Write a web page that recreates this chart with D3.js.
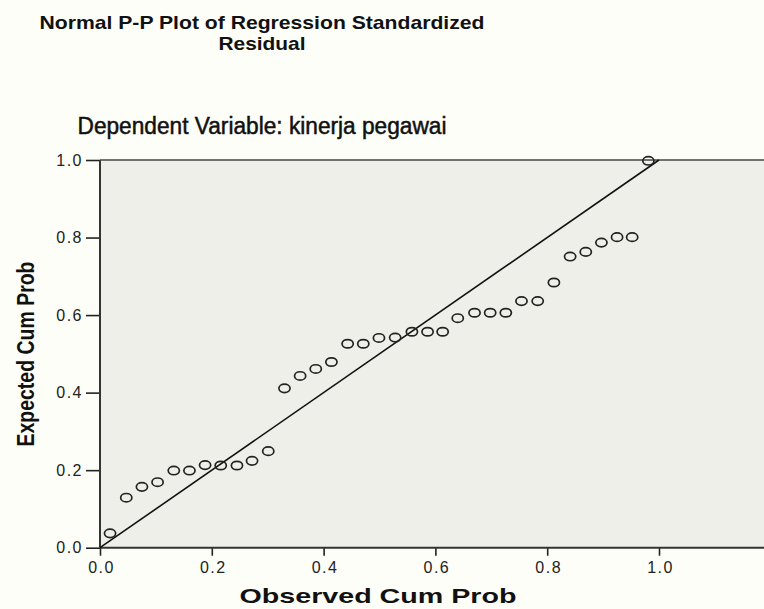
<!DOCTYPE html>
<html>
<head>
<meta charset="utf-8">
<script src="https://cdn.jsdelivr.net/npm/d3@7"></script>
<style>
	html, body { margin: 0; padding: 0; background: #fefef8; }
	svg { display: block; }
</style>
</head>
<body>
<svg id="chart" width="764" height="609"></svg>
<script>
// observed vs expected cumulative probability
var observed = [ 0.018, 0.047, 0.075, 0.103, 0.132, 0.160, 0.188, 0.216, 0.245, 0.272,
	0.301, 0.330, 0.358, 0.386, 0.414, 0.443, 0.471, 0.499, 0.528, 0.558,
	0.586, 0.613, 0.640, 0.670, 0.698, 0.726, 0.754, 0.783, 0.812, 0.841,
	0.869, 0.897, 0.925, 0.952, 0.981 ];
var expected = [ 0.037, 0.129, 0.157, 0.169, 0.199, 0.199, 0.213, 0.212, 0.212, 0.224,
	0.249, 0.411, 0.443, 0.461, 0.479, 0.526, 0.526, 0.541, 0.542, 0.557,
	0.557, 0.557, 0.592, 0.606, 0.606, 0.606, 0.636, 0.636, 0.684, 0.751,
	0.763, 0.787, 0.801, 0.801, 0.998 ];
var xTicks = [ 0.0, 0.2, 0.4, 0.6, 0.8, 1.0 ];
var yTicks = [ 0.0, 0.2, 0.4, 0.6, 0.8, 1.0 ];
var diagonal = [ [ 0, 0 ], [ 1, 1 ] ];

var titleLines = [ 'Normal P-P Plot of Regression Standardized', 'Residual' ];
var subTitle = 'Dependent Variable: kinerja pegawai';

var svg = d3.select( '#chart' );

var x = d3.scaleLinear().domain( [ 0, 1 ] ).range( [ 100, 659 ] ),
	y = d3.scaleLinear().domain( [ 0, 1 ] ).range( [ 547.7, 160 ] );

// plot background runs off the right edge
svg.append( 'rect' )
	.attr( 'x', x( 0 ) ).attr( 'y', y( 1 ) )
	.attr( 'width', 764 - x( 0 ) ).attr( 'height', y( 0 ) - y( 1 ) )
	.style( 'fill', '#efefea' );

function label( txt, px, py, size, weight, len ) {
	return svg.append( 'text' )
		.attr( 'x', px ).attr( 'y', py )
		.attr( 'text-anchor', 'middle' )
		.attr( 'font-family', 'Liberation Sans, Arial, sans-serif' )
		.attr( 'font-size', size )
		.attr( 'font-weight', weight )
		.attr( 'textLength', len ).attr( 'lengthAdjust', 'spacingAndGlyphs' )
		.attr( 'fill', '#111' )
		.text( txt );
}

// titles
label( titleLines[ 0 ], 262, 28.5, 19, 'bold', 445 );
label( titleLines[ 1 ], 262, 50, 19, 'bold', 87 );
label( subTitle, 262, 134, 23, 'normal', 369 )
	.attr( 'stroke', '#111' ).attr( 'stroke-width', 0.5 );

// axes
var xAxis = d3.axisBottom( x ).tickValues( xTicks ).tickSizeInner( 8 ).tickSizeOuter( 0 )
	.tickPadding( 4 ).tickFormat( d3.format( '.1f' ) );
var yAxis = d3.axisLeft( y ).tickValues( yTicks ).tickSizeInner( 14 ).tickSizeOuter( 0 )
	.tickPadding( 3 ).tickFormat( d3.format( '.1f' ) );

var gx = svg.append( 'g' ).attr( 'transform', 'translate(0,' + y( 0 ) + ')' ).call( xAxis );
var gy = svg.append( 'g' ).attr( 'transform', 'translate(' + x( 0 ) + ',0)' ).call( yAxis );

gx.select( '.domain' ).remove();
gy.select( '.domain' ).remove();
[ gx, gy ].forEach( function( g ) {
	g.attr( 'font-size', 16 ).attr( 'font-family', 'Liberation Sans, Arial, sans-serif' );
	g.selectAll( '.tick line' ).attr( 'stroke', '#222' ).attr( 'stroke-width', 1.6 );
	g.selectAll( '.tick text' )
		.attr( 'letter-spacing', '1.5px' )
		.attr( 'fill', '#222' );
} );
gx.selectAll( '.tick text' ).attr( 'dy', '0.85em' ).attr( 'dx', '1px' );

// frame lines: left axis, bottom axis, top border
svg.append( 'line' )
	.attr( 'x1', x( 0 ) ).attr( 'x2', x( 0 ) ).attr( 'y1', y( 1 ) ).attr( 'y2', y( 0 ) )
	.style( 'stroke', '#333' ).style( 'stroke-width', 2 );
svg.append( 'line' )
	.attr( 'x1', x( 0 ) ).attr( 'x2', 764 ).attr( 'y1', y( 0 ) ).attr( 'y2', y( 0 ) )
	.style( 'stroke', '#333' ).style( 'stroke-width', 2 );
svg.append( 'line' )
	.attr( 'x1', x( 0 ) ).attr( 'x2', 764 ).attr( 'y1', y( 1 ) ).attr( 'y2', y( 1 ) )
	.style( 'stroke', '#444' ).style( 'stroke-width', 1.5 );

// axis titles
label( 'Observed Cum Prob', 378, 603, 21, 'bold', 277 );
svg.append( 'text' )
	.attr( 'transform', 'translate(34,354) rotate(-90)' )
	.attr( 'text-anchor', 'middle' )
	.attr( 'font-family', 'Liberation Sans Narrow, Liberation Sans, Arial, sans-serif' )
	.attr( 'font-size', 24 ).attr( 'font-weight', 'bold' )
	.attr( 'textLength', 185 ).attr( 'lengthAdjust', 'spacingAndGlyphs' )
	.attr( 'fill', '#111' )
	.text( 'Expected Cum Prob' );

// reference line
svg.append( 'path' )
	.datum( diagonal )
	.attr( 'd', d3.line().x( function( d ) { return x( d[ 0 ] ); } ).y( function( d ) { return y( d[ 1 ] ); } ) )
	.style( 'stroke', '#111' ).style( 'stroke-width', 1.6 ).style( 'fill', 'none' );

// points
svg.append( 'g' )
	.selectAll( 'ellipse' ).data( observed )
	.enter().append( 'ellipse' )
	.attr( 'cx', function( d ) { return x( d ); } )
	.attr( 'cy', function( d, i ) { return y( expected[ i ] ); } )
	.attr( 'rx', 5.6 ).attr( 'ry', 4.2 )
	.style( 'fill', 'none' ).style( 'stroke', '#222' ).style( 'stroke-width', 1.7 );
</script>
</body>
</html>
